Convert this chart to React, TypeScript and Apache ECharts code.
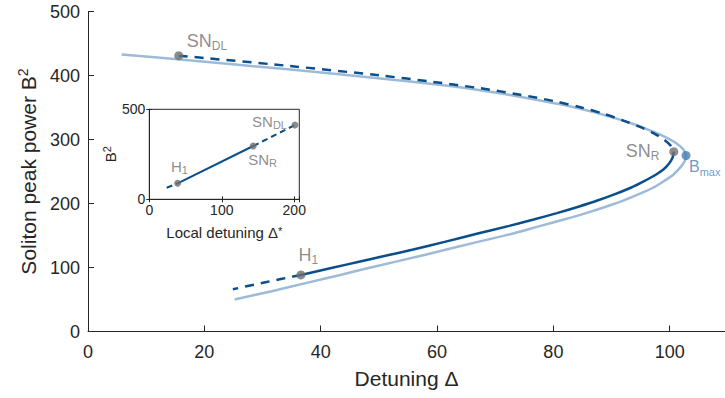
import React, { useEffect, useRef } from "react";
import * as echarts from "echarts";

// ---- main chart data (Detuning Δ, B²) ----
const LIGHT_CURVE: number[][] = [
  [5.8, 433], [15.8, 425], [33.9, 410], [50.7, 395], [60.7, 385], [66, 379], [70.3, 373],
  [75.4, 365], [81.2, 355], [86.0, 345], [90.0, 335], [93.5, 325], [96.4, 315], [99.0, 305],
  [101.0, 295], [102.3, 285], [102.8, 275], [102.65, 268], [102.3, 262], [101.6, 254],
  [100.6, 245], [99.0, 235], [97.2, 225], [94.8, 215], [92.1, 205], [89.0, 195], [85.6, 185],
  [81.8, 175], [77.8, 165], [72.6, 152], [67.0, 140], [58, 120], [48.6, 100], [43.2, 88],
  [37.6, 76], [31.6, 63], [25.2, 50],
];
const DARK_UPPER: number[][] = [
  [15.6, 431], [34.5, 415], [50.3, 400], [59.3, 390], [67.5, 380], [74.3, 370], [80.1, 360],
  [84.8, 350], [88.7, 340], [91.9, 330], [94.8, 320], [97.2, 310], [99.0, 300], [100.2, 290],
  [100.7, 281],
];
const DARK_LOWER: number[][] = [
  [100.7, 281], [100.5, 272], [99.85, 262], [98.9, 253], [97.6, 245], [95.6, 235], [93.4, 225],
  [90.7, 215], [87.7, 205], [84.3, 195], [80.6, 185], [76.6, 175], [72.4, 165], [67, 153],
  [61.3, 140], [55.9, 128], [51.5, 119], [46.6, 109], [42.2, 100], [36.6, 88.4],
];
const DARK_TAIL: number[][] = [[36.6, 88.4], [30.5, 77], [24.9, 66]];

const POINT_SN_DL = [15.6, 431];
const POINT_SN_R = [100.7, 281];
const POINT_H1 = [36.6, 88.4];
const POINT_BMAX = [102.8, 275];

// ---- inset data (local detuning Δ*, B²) ----
const INSET_TAIL: number[][] = [[24, 64], [39.1, 89]];
const INSET_SOLID: number[][] = [[39.1, 89], [143.4, 296]];
const INSET_DASHED: number[][] = [[143.4, 296], [201, 413]];
const INSET_H1 = [39.1, 89];
const INSET_SN_R = [143.4, 296];
const INSET_SN_DL = [201, 413];

const DARK = "#0b4e8c";
const LIGHT = "#9dbbd8";
const GRAY = "#6f6f6f";
const STEEL = "#4a80b7";
const AXIS = "#262626";
const FONT = "'Liberation Sans', Arial, Helvetica, sans-serif";

function mainLabel(
  main: string, sub: string, color: string, pos: number[], align: string,
  mainSize = 18, subSize = 12,
) {
  return {
    show: true,
    position: pos,
    align,
    verticalAlign: "middle",
    formatter: `{a|${main}}{b|${sub}}`,
    rich: {
      a: { fontSize: mainSize, fontFamily: FONT, color, lineHeight: 22, verticalAlign: "middle" },
      b: { fontSize: subSize, fontFamily: FONT, color, lineHeight: 12, verticalAlign: "bottom" },
    },
  };
}
function insetLabel(main: string, sub: string, pos: number[], align: string) {
  return {
    show: true,
    position: pos,
    align,
    verticalAlign: "middle",
    formatter: `{a|${main}}{b|${sub}}`,
    rich: {
      a: { fontSize: 15, fontFamily: FONT, color: GRAY, lineHeight: 18, verticalAlign: "middle" },
      b: { fontSize: 11, fontFamily: FONT, color: GRAY, lineHeight: 11, verticalAlign: "bottom" },
    },
  };
}

export default function App() {
  const ref = useRef<HTMLDivElement>(null);
  useEffect(() => {
    if (!ref.current) return;
    const chart = echarts.init(ref.current, undefined, { renderer: "svg" });
    const axisLine = { show: true, lineStyle: { color: AXIS, width: 1 } };
    const option: any = {
      animation: false,
      backgroundColor: "#ffffff",
      textStyle: { fontFamily: FONT },
      grid: [
        { left: 88, right: 0, top: 11.5, height: 320, containLabel: false, outerBoundsMode: "none" },
        {
          left: 149.3, top: 109.3, width: 150, height: 90, show: true,
          borderColor: AXIS, borderWidth: 1, backgroundColor: "#ffffff", z: 5,
          containLabel: false, outerBoundsMode: "none",
        },
      ],
      xAxis: [
        {
          gridIndex: 0, type: "value", min: 0, max: 109.5, interval: 20,
          axisLine, axisTick: { show: true, inside: true, length: 6, lineStyle: { color: AXIS } },
          splitLine: { show: false },
          axisLabel: {
            fontSize: 18, color: AXIS, margin: 11, fontFamily: FONT,
            formatter: (v: number) => (v % 20 === 0 ? String(v) : ""),
          },
          name: "Detuning Δ", nameLocation: "middle", nameGap: 36,
          nameTextStyle: { fontSize: 21, color: AXIS, fontFamily: FONT },
        },
        {
          gridIndex: 1, type: "value", min: 0, max: 207, interval: 100,
          axisLine, axisTick: { show: true, inside: true, length: 3, lineStyle: { color: AXIS } },
          splitLine: { show: false },
          axisLabel: {
            fontSize: 14, color: AXIS, margin: 4, fontFamily: FONT,
            formatter: (v: number) => (v % 100 === 0 ? String(v) : ""),
          },
          name: "Local detuning Δ{sup|*}", nameLocation: "middle", nameGap: 26,
          nameTextStyle: {
            fontSize: 15, color: AXIS, fontFamily: FONT,
            rich: { sup: { fontSize: 11, color: AXIS, fontFamily: FONT, verticalAlign: "top", lineHeight: 10 } },
          },
          z: 6,
        },
        {
          gridIndex: 1, type: "value", min: 0, max: 207, interval: 100, position: "top",
          axisLine, axisTick: { show: true, inside: true, length: 3, lineStyle: { color: AXIS } },
          splitLine: { show: false }, axisLabel: { show: false }, z: 6,
        },
      ],
      yAxis: [
        {
          gridIndex: 0, type: "value", min: 0, max: 500, interval: 100,
          axisLine, axisTick: { show: true, inside: true, length: 6, lineStyle: { color: AXIS } },
          splitLine: { show: false },
          axisLabel: { fontSize: 18, color: AXIS, margin: 8, fontFamily: FONT },
          name: "{n|Soliton peak power B}{sup|2}", nameLocation: "middle", nameGap: 46, nameRotate: 90,
          nameTextStyle: {
            fontSize: 21, color: AXIS, fontFamily: FONT,
            rich: {
              n: { fontSize: 21, color: AXIS, fontFamily: FONT, lineHeight: 26 },
              sup: { fontSize: 14, color: AXIS, fontFamily: FONT, verticalAlign: "top", lineHeight: 14 },
            },
          },
        },
        {
          gridIndex: 1, type: "value", min: 0, max: 500, interval: 500,
          axisLine, axisTick: { show: true, inside: true, length: 3, lineStyle: { color: AXIS } },
          splitLine: { show: false },
          axisLabel: { fontSize: 14, color: AXIS, margin: 4, fontFamily: FONT },
          name: "{n|B}{sup|2}", nameLocation: "middle", nameGap: 21, nameRotate: 90,
          nameTextStyle: {
            fontSize: 15, color: AXIS, fontFamily: FONT,
            rich: {
              n: { fontSize: 15, color: AXIS, fontFamily: FONT, lineHeight: 18 },
              sup: { fontSize: 11, color: AXIS, fontFamily: FONT, verticalAlign: "top", lineHeight: 10 },
            },
          },
          z: 6,
        },
        {
          gridIndex: 1, type: "value", min: 0, max: 500, interval: 500, position: "right",
          axisLine, axisTick: { show: true, inside: true, length: 3, lineStyle: { color: AXIS } },
          splitLine: { show: false }, axisLabel: { show: false }, z: 6,
        },
      ],
      series: [
        {
          type: "line", xAxisIndex: 0, yAxisIndex: 0, data: LIGHT_CURVE, smooth: 0.3,
          showSymbol: false, lineStyle: { color: LIGHT, width: 2.5 }, z: 2,
        },
        {
          type: "line", xAxisIndex: 0, yAxisIndex: 0, data: DARK_UPPER, smooth: 0.3,
          showSymbol: false, lineStyle: { color: DARK, width: 2.5, type: [9, 7] }, z: 3,
        },
        {
          type: "line", xAxisIndex: 0, yAxisIndex: 0, data: DARK_LOWER, smooth: 0.3,
          showSymbol: false, lineStyle: { color: DARK, width: 2.5 }, z: 3,
        },
        {
          type: "line", xAxisIndex: 0, yAxisIndex: 0, data: DARK_TAIL, smooth: 0.3,
          showSymbol: false, lineStyle: { color: DARK, width: 2.5, type: [9, 7] }, z: 3,
        },
        {
          type: "scatter", xAxisIndex: 0, yAxisIndex: 0, symbolSize: 9, z: 4,
          itemStyle: { color: GRAY },
          data: [
            { value: POINT_SN_DL, label: mainLabel("SN", "DL", GRAY, [12.5, -10], "left") },
            { value: POINT_H1, label: mainLabel("H", "1", GRAY, [2, -15.5], "left") },
            { value: POINT_SN_R, label: mainLabel("SN", "R", GRAY, [-10, 3.5], "right") },
          ],
        },
        {
          type: "scatter", xAxisIndex: 0, yAxisIndex: 0, symbolSize: 9, z: 4,
          itemStyle: { color: STEEL },
          data: [{ value: POINT_BMAX, label: mainLabel("B", "max", STEEL, [7.5, 15], "left", 16, 11) }],
        },
        {
          type: "line", xAxisIndex: 1, yAxisIndex: 1, data: INSET_TAIL, showSymbol: false,
          lineStyle: { color: DARK, width: 2, type: [6, 4] }, z: 7,
        },
        {
          type: "line", xAxisIndex: 1, yAxisIndex: 1, data: INSET_SOLID, showSymbol: false,
          lineStyle: { color: DARK, width: 2 }, z: 7,
        },
        {
          type: "line", xAxisIndex: 1, yAxisIndex: 1, data: INSET_DASHED, showSymbol: false,
          lineStyle: { color: DARK, width: 2, type: [6, 4] }, z: 7,
        },
        {
          type: "scatter", xAxisIndex: 1, yAxisIndex: 1, symbolSize: 7, z: 8,
          itemStyle: { color: GRAY },
          data: [
            { value: INSET_H1, label: insetLabel("H", "1", [-3.2, -12.8], "left") },
            { value: INSET_SN_R, label: insetLabel("SN", "R", [-1.5, 16.5], "left") },
            { value: INSET_SN_DL, label: insetLabel("SN", "DL", [-4.5, 0], "right") },
          ],
        },
      ],
    };
    chart.setOption(option);
    return () => chart.dispose();
  }, []);
  return (
    <div
      ref={ref}
      style={{ position: "fixed", left: 0, top: 0, width: 725, height: 398, background: "#fff" }}
    />
  );
}
